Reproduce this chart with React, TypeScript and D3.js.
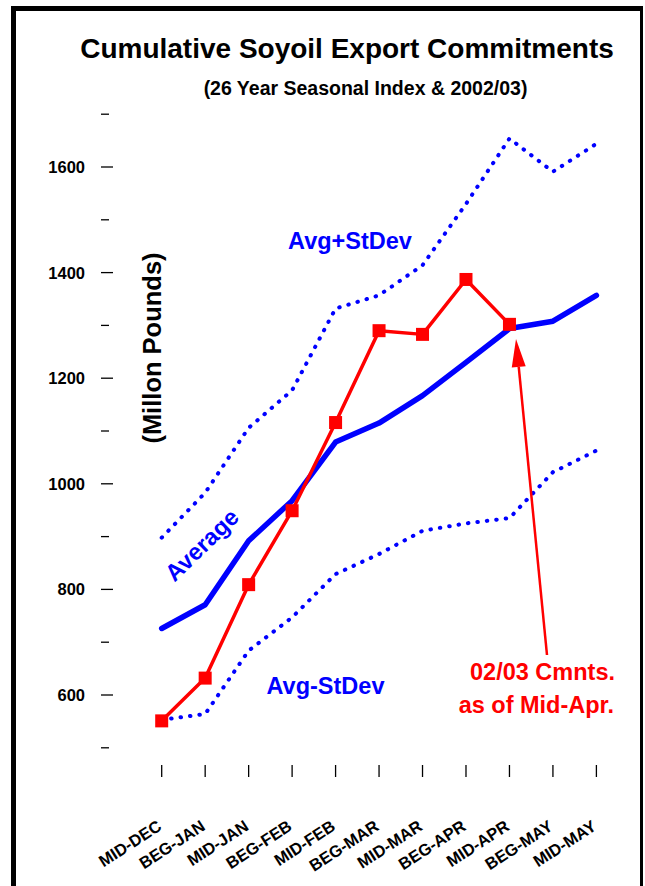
import React from "react";
import * as d3 from "d3";

const categories = ["MID-DEC", "BEG-JAN", "MID-JAN", "BEG-FEB", "MID-FEB", "BEG-MAR", "MID-MAR", "BEG-APR", "MID-APR", "BEG-MAY", "MID-MAY"];
const average = [726, 771, 892, 968, 1079, 1115, 1167, 1230, 1294, 1308, 1357];
const avgPlusStDev = [898, 983, 1106, 1177, 1332, 1357, 1414, 1530, 1654, 1591, 1644];
const avgMinusStDev = [553, 564, 684, 747, 829, 867, 911, 925, 935, 1022, 1063];
const current = [551, 632, 809, 949, 1116, 1290, 1283, 1387, 1302];
const majorTicks = [600, 800, 1000, 1200, 1400, 1600];
const minorTicks = [500, 700, 900, 1100, 1300, 1500, 1700];

const W = 645;
const H = 886;
const FONT = "'Liberation Sans', Arial, Helvetica, sans-serif";
const BLUE = "#0000FF";
const RED = "#FF0000";

export default function App() {
  const x = d3.scalePoint<string>().domain(categories).range([161.7, 596.4]);
  const y = d3.scaleLinear().domain([500, 1700]).range([747.8, 114.2]);
  const line = d3
    .line<number>()
    .x((_, i) => x(categories[i]) as number)
    .y((d) => y(d));

  const arrowTip = { x: 516, y: 339 };
  const arrowBase = { x: 547, y: 655 };
  const ang = Math.atan2(arrowTip.y - arrowBase.y, arrowTip.x - arrowBase.x);
  const headLen = 28;
  const headW = 7;
  const bx = arrowTip.x - headLen * Math.cos(ang);
  const by = arrowTip.y - headLen * Math.sin(ang);
  const px = -Math.sin(ang) * headW;
  const py = Math.cos(ang) * headW;
  const head = `M${arrowTip.x},${arrowTip.y}L${bx + px},${by + py}L${bx - px},${by - py}Z`;

  return (
    <svg
      width={W}
      height={H}
      style={{ position: "fixed", left: 0, top: 0, background: "#fff" }}
      fontFamily={FONT}
    >
      <rect x={0} y={0} width={W} height={H} fill="#fff" />
      {/* frame */}
      <rect x={11} y={6} width={5} height={H} fill="#000" />
      <rect x={11} y={6} width={632} height={5} fill="#000" />
      <rect x={640} y={6} width={3} height={H} fill="#000" />

      {/* titles */}
      <text x={347} y={58} textAnchor="middle" fontSize={28} fontWeight="bold" fill="#000">
        Cumulative Soyoil Export Commitments
      </text>
      <text x={365.5} y={95} textAnchor="middle" fontSize={19.5} fontWeight="bold" fill="#000">
        (26 Year Seasonal Index &amp; 2002/03)
      </text>

      {/* y axis ticks */}
      {majorTicks.map((t) => (
        <g key={"M" + t}>
          <line x1={101} x2={113} y1={y(t)} y2={y(t)} stroke="#000" strokeWidth={1.3} />
          <text x={85} y={y(t)} dy="0.36em" textAnchor="end" fontSize={16.5} fontWeight="bold" fill="#000">
            {t}
          </text>
        </g>
      ))}
      {minorTicks.map((t) => (
        <line key={"m" + t} x1={101} x2={109} y1={y(t)} y2={y(t)} stroke="#000" strokeWidth={1.3} />
      ))}

      {/* x axis ticks */}
      {categories.map((c) => {
        const cx = x(c) as number;
        return (
          <g key={c}>
            <line x1={cx} x2={cx} y1={765} y2={777} stroke="#000" strokeWidth={1.3} />
            <text
              transform={`translate(${cx + 1},829) rotate(-33)`}
              textAnchor="end"
              fontSize={16.5}
              fontWeight="bold"
              fill="#000"
            >
              {c}
            </text>
          </g>
        );
      })}

      {/* y axis label */}
      <text
        transform="translate(161,348) rotate(-90)"
        textAnchor="middle"
        fontSize={25.5}
        fontWeight="bold"
        fill="#000"
      >
        (Millon Pounds)
      </text>

      {/* series */}
      <path d={line(avgPlusStDev) || ""} fill="none" stroke={BLUE} strokeWidth={4} strokeDasharray="0.5 9" strokeLinecap="round" />
      <path d={line(avgMinusStDev) || ""} fill="none" stroke={BLUE} strokeWidth={4} strokeDasharray="0.5 9" strokeLinecap="round" />
      <path d={line(average) || ""} fill="none" stroke={BLUE} strokeWidth={5.5} strokeLinecap="round" strokeLinejoin="round" />
      <path d={line(current) || ""} fill="none" stroke={RED} strokeWidth={3.5} strokeLinejoin="round" />
      {current.map((v, i) => (
        <rect
          key={i}
          x={(x(categories[i]) as number) - 6.5}
          y={y(v) - 6.5}
          width={13}
          height={13}
          fill={RED}
        />
      ))}

      {/* labels */}
      <text x={350} y={249} textAnchor="middle" fontSize={23.5} fontWeight="bold" fill={BLUE}>
        Avg+StDev
      </text>
      <text x={325.5} y={694} textAnchor="middle" fontSize={23.5} fontWeight="bold" fill={BLUE}>
        Avg-StDev
      </text>
      <text
        transform="translate(201.7,545) rotate(-44)"
        textAnchor="middle"
        dy="0.35em"
        fontSize={23.5}
        fontWeight="bold"
        fill={BLUE}
      >
        Average
      </text>

      {/* annotation */}
      <line x1={arrowBase.x} y1={arrowBase.y} x2={bx} y2={by} stroke={RED} strokeWidth={2.5} />
      <path d={head} fill={RED} />
      <text x={615} y={680} textAnchor="end" fontSize={23.5} fontWeight="bold" fill={RED}>
        02/03 Cmnts.
      </text>
      <text x={614} y={713} textAnchor="end" fontSize={23.5} fontWeight="bold" fill={RED}>
        as of Mid-Apr.
      </text>
    </svg>
  );
}
